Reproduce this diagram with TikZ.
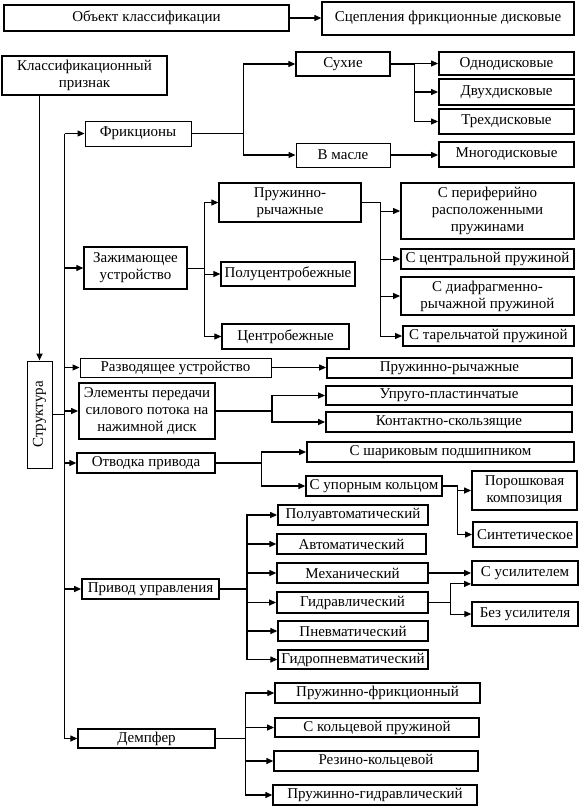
\documentclass[tikz,border=0pt]{standalone}
\usepackage{fontspec}
\usepackage{graphicx}
\setmainfont{Liberation Serif}
\usetikzlibrary{arrows.meta,calc}
\newcommand\bx[7][]{\node[box,minimum width={#5-#3},minimum height={#6-#4},#1] (#2) at ({(#3+#5)/2},{(#4+#6)/2}) {#7};}
\begin{document}
\begin{tikzpicture}[x=1pt,y=-1pt,
  box/.style={draw,line width=1.3pt,inner sep=0pt,align=center,font=\fontsize{15}{17}\selectfont},
  thin/.style={line width=1pt},
  arr/.style={line width=1.2pt,-{Triangle[length=7pt,width=6pt]}},
  ln/.style={line width=1.2pt}]
\useasboundingbox (0,0) rectangle (579,807);
\bx[line width=1.8pt]{obj}{4}{5}{289}{31}{Объект классификации}
\bx{sc}{322}{2}{574}{35}{\raisebox{5pt}{Сцепления фрикционные дисковые}}
\bx[line width=1.8pt]{klass}{2}{56}{167}{95}{Классификационный\\признак}
\bx{suhie}{296}{52}{390}{76}{Сухие}
\bx[line width=1.8pt]{odno}{439}{52}{574}{75}{Однодисковые}
\bx[line width=1.8pt]{dvuh}{439}{79}{574}{105}{Двухдисковые}
\bx[line width=1.8pt]{treh}{439}{109}{574}{134}{Трехдисковые}
\bx[thin]{frik}{85}{121}{191}{146}{Фрикционы}
\bx[thin]{vmasle}{296}{143}{390}{167}{В масле}
\bx[line width=1.8pt]{mnogo}{439}{142}{574}{167}{Многодисковые}
\bx{prr}{219}{183}{361}{222}{Пружинно-\\рычажные}
\bx[line width=1.8pt]{peri}{401}{183}{574}{239}{С периферийно\\расположенными\\пружинами}
\bx{zaj}{84}{247}{187}{289}{Зажимающее\\устройство}
\bx{polu}{221}{262}{355}{286}{Полуцентробежные}
\bx[line width=1.8pt]{centr}{401}{249}{574}{269}{С центральной пружиной}
\bx[line width=1.8pt]{diaf}{401}{277}{574}{315}{С диафрагменно-\\рычажной пружиной}
\bx{centrob}{222}{324}{349}{349}{Центробежные}
\bx[line width=1.8pt]{tarel}{403}{326}{574}{346}{С тарельчатой пружиной}
\bx[thin]{strukt}{27}{361}{52}{468}{\rotatebox{90}{Структура}}
\bx[thin]{razv}{80}{358}{271}{377}{Разводящее устройство}
\bx[line width=1.8pt]{prr2}{327}{358}{572}{378}{Пружинно-рычажные}
\bx[line width=1.8pt]{elem}{79}{383}{215}{439}{Элементы передачи\\силового потока на\\нажимной диск}
\bx[line width=1.8pt]{upr}{326}{386}{572}{405}{Упруго-пластинчатые}
\bx[line width=1.8pt]{kont}{326}{412}{572}{432}{Контактно-скользящие}
\bx{otv}{77}{453}{215}{473}{Отводка привода}
\bx[line width=1.8pt]{shar}{307}{442}{574}{462}{С шариковым подшипником}
\bx{upor}{306}{476}{442}{496}{С упорным кольцом}
\bx[line width=1.8pt]{porosh}{472}{471}{577}{510}{Порошковая\\композиция}
\bx[line width=1.8pt]{poluavt}{278}{505}{428}{525}{Полуавтоматический}
\bx[line width=1.8pt]{sint}{473}{522}{577}{547}{Синтетическое}
\bx{avt}{277}{534}{426}{554}{Автоматический}
\bx{meh}{277}{563}{428}{583}{Механический}
\bx[line width=1.8pt]{usil}{472}{561}{578}{585}{С усилителем}
\bx[line width=1.8pt]{gidr}{277}{592}{428}{613}{Гидравлический}
\bx{bez}{472}{602}{578}{626}{Без усилителя}
\bx[line width=1.8pt]{privod}{82}{579}{219}{599}{Привод управления}
\bx{pnevm}{278}{621}{428}{641}{Пневматический}
\bx{gidropn}{278}{650}{428}{669}{Гидропневматический}
\bx{prfr}{275}{683}{480}{703}{Пружинно-фрикционный}
\bx[line width=1.8pt]{kolc}{275}{718}{479}{737}{С кольцевой пружиной}
\bx{demp}{78}{729}{215}{748}{Демпфер}
\bx{rezino}{274}{751}{478}{771}{Резино-кольцевой}
\bx{prgidr}{273}{785}{477}{805}{Пружинно-гидравлический}
% connectors
\draw[arr] (obj.east) -- (obj.east -| sc.west);
\draw[arr,line width=1.6pt] (klass.south -| strukt.north) -- (strukt.north);
\coordinate (tt) at ([xshift=-20pt]frik.west);
\draw[ln] (tt) -- (tt |- demp.west);
\foreach \n in {frik,zaj,razv,elem,otv,privod,demp} {\draw[arr] (tt |- \n.west) -- (\n.west);}
\draw[thin] (strukt.east) -- (strukt.east -| tt);
\draw[thin] (frik.east) -- ++(52,0) coordinate (jf);
\draw[arr] (jf) |- (suhie.west);
\draw[arr] (jf) |- (vmasle.west);
\draw[ln] (suhie.east) -- ++(24,0) coordinate (js);
\foreach \n in {odno,dvuh,treh} {\draw[arr] (js) |- (\n.west);}
\draw[arr] (vmasle.east) -- (vmasle.east -| mnogo.west);
\draw[thin] (zaj.east) -- ++(17,0) coordinate (jz);
\foreach \n in {prr,polu,centrob} {\draw[arr,thin] (jz) |- (\n.west);}
\draw[ln] (prr.east) -- ++(19,0) coordinate (jp);
\foreach \n in {peri,centr,diaf,tarel} {\draw[arr,thin] (jp) |- (\n.west);}
\draw[arr] (razv.east) -- (razv.east -| prr2.west);
\draw[ln] (elem.east) -- ++(56,0) coordinate (je);
\foreach \n in {upr,kont} {\draw[arr] (je) |- (\n.west);}
\draw[ln] (otv.east) -- ++(46,0) coordinate (jo);
\foreach \n in {shar,upor} {\draw[arr] (jo) |- (\n.west);}
\draw[ln] (upor.east) -- ++(15,0) coordinate (ju);
\foreach \n in {porosh,sint} {\draw[arr] (ju) |- (\n.west);}
\draw[ln] (privod.east) -- ++(27,0) coordinate (jv);
\foreach \n in {poluavt,avt,meh,gidr,pnevm,gidropn} {\draw[arr] (jv) |- (\n.west);}
\draw[arr] (meh.east) -- (meh.east -| usil.west);
\draw[thin] (gidr.east) -- ++(22,0) coordinate (jg);
\draw[arr,thin] (jg) |- ([yshift=2pt]usil.south west);
\draw[arr,thin] (jg) |- (bez.west);
\draw[ln] (demp.east) -- ++(30,0) coordinate (jd);
\foreach \n in {prfr,kolc,rezino,prgidr} {\draw[arr] (jd) |- (\n.west);}
\end{tikzpicture}
\end{document}
